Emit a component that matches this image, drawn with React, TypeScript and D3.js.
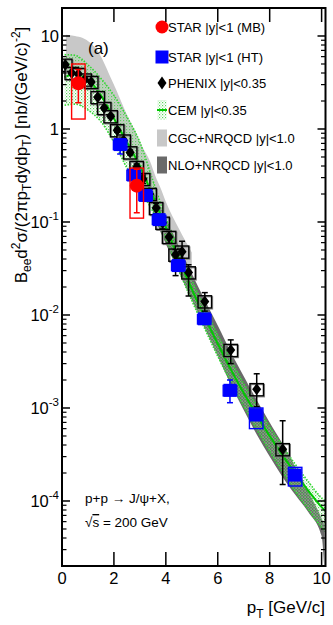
import React from "react";
import * as d3 from "d3";

// ---------- data ----------
const phenixPt = [0.125, 0.375, 0.625, 0.875, 1.125, 1.375, 1.625, 1.875, 2.125, 2.375, 2.625, 2.875, 3.125, 3.375, 3.625, 3.875, 4.125, 4.375, 4.625, 4.875, 5.5, 6.5, 7.5, 8.5];
const phenixVal = [4.9, 4.0, 3.9, 3.4, 3.2, 2.2, 1.68, 1.37, 0.97, 0.75, 0.56, 0.39, 0.29, 0.2, 0.141, 0.098, 0.069, 0.0445, 0.048, 0.0287, 0.014, 0.0042, 0.00159, 0.00036];
const phenixErrUp = [0.2, 0.15, 0.15, 0.13, 0.12, 0.09, 0.07, 0.06, 0.05, 0.04, 0.035, 0.03, 0.03, 0.025, 0.018, 0.014, 0.01, 0.006, 0.014, 0.006, 0.0034, 0.0012, 0.00074, 0.00037];
const phenixErrDn = [0.2, 0.15, 0.15, 0.13, 0.12, 0.09, 0.07, 0.06, 0.05, 0.04, 0.035, 0.03, 0.03, 0.025, 0.018, 0.014, 0.01, 0.018, 0.013, 0.0127, 0.003, 0.0012, 0.00056, 0.00021];
const phenixSysFrac = [0.15, 0.15, 0.15, 0.15, 0.15, 0.15, 0.15, 0.15, 0.15, 0.15, 0.15, 0.15, 0.15, 0.15, 0.15, 0.15, 0.15, 0.15, 0.15, 0.15, 0.15, 0.15, 0.15, 0.15];

const starHtPt = [2.24, 2.76, 3.22, 3.74, 4.48, 5.48, 6.47, 7.48, 8.98];
const starHtVal = [0.68, 0.32, 0.193, 0.106, 0.034, 0.0091, 0.00155, 0.00084, 0.00019];
const starHtErrUp = [0.05, 0.025, 0.012, 0.007, 0.003, 0.0008, 0.00045, 0.00008, 0.00002];
const starHtErrDn = [0.14, 0.025, 0.012, 0.007, 0.003, 0.0008, 0.00041, 0.00008, 0.00002];
const starHtSysLo = [0.6, 0.28, 0.17, 0.094, 0.03, 0.008, 0.00135, 0.0006, 0.000145];
const starHtSysHi = [0.76, 0.36, 0.215, 0.118, 0.038, 0.0101, 0.00175, 0.001, 0.00023];

const starMbPt = [0.63, 2.88];
const starMbVal = [3.1, 0.246];
const starMbErrUp = [1.25, 0.124];
const starMbErrDn = [1.18, 0.12];
const starMbSysLo = [1.28, 0.11];
const starMbSysHi = [5.0, 0.38];

const cemPt = [0.1, 0.5, 1.0, 1.5, 2.0, 2.5, 3.0, 3.5, 4.0, 4.5, 5.0, 5.5, 6.0, 6.5, 7.0, 7.5, 8.0, 8.5, 9.0, 9.5, 10.0, 10.15];
const cemCentral = [3.6, 3.9, 3.4, 2.3, 1.3, 0.72, 0.4, 0.19, 0.088, 0.04, 0.019, 0.0095, 0.0049, 0.0026, 0.00145, 0.00084, 0.0005, 0.00031, 0.000195, 0.000128, 0.000086, 0.000078];
const cemHigh = [6.3, 6.2, 4.9, 3.5, 2.3, 1.35, 0.72, 0.28, 0.11, 0.05, 0.0238, 0.0119, 0.0061, 0.0033, 0.00183, 0.00106, 0.00063, 0.00039, 0.000245, 0.00016, 0.000108, 0.0001];
const cemLow = [1.8, 1.85, 1.6, 1.2, 0.72, 0.38, 0.22, 0.13, 0.065, 0.03, 0.0143, 0.0071, 0.0036, 0.0019, 0.00104, 0.00059, 0.00034, 0.000205, 0.000125, 0.00008, 0.000052, 0.000047];

const cgcPt = [0.15, 0.5, 0.8, 1.1, 1.34, 1.6, 1.85, 2.1, 2.36, 2.6, 2.88, 3.1, 3.39, 3.6, 3.8, 4.0, 4.5, 5.0];
const cgcHigh = [10.3, 10.0, 9.5, 8.4, 7.1, 5.3, 3.7, 2.6, 1.75, 1.25, 0.88, 0.64, 0.45, 0.31, 0.23, 0.165, 0.085, 0.047];
const cgcLow = [4.0, 4.3, 4.0, 3.4, 2.8, 2.1, 1.55, 1.1, 0.75, 0.52, 0.34, 0.25, 0.165, 0.12, 0.09, 0.068, 0.036, 0.02];

const nloPt = [3.5, 4.0, 4.5, 5.0, 5.5, 6.0, 6.5, 7.0, 7.5, 8.0, 8.5, 9.0, 9.5, 10.0, 10.1];
const nloHigh = [0.22, 0.11, 0.055, 0.028, 0.0145, 0.0077, 0.004, 0.0022, 0.00122, 0.0007, 0.00041, 0.00023, 0.000125, 0.000065, 0.000056];
const nloLow = [0.12, 0.058, 0.029, 0.0145, 0.0072, 0.0036, 0.0018, 0.00095, 0.00052, 0.0003, 0.00018, 0.000115, 0.000075, 0.000042, 0.00002];

const xTicks = [0, 2, 4, 6, 8, 10];
const yDecades = [-4, -3, -2, -1, 0, 1];

const legendLabels = ["STAR |y|<1 (MB)", "STAR |y|<1 (HT)", "PHENIX |y|<0.35", "CEM |y|<0.35", "CGC+NRQCD |y|<1.0", "NLO+NRQCD |y|<1.0"];

// ---------- layout ----------
const W = 333;
const H = 625;
const L = 62;
const R = 325.5;
const T = 8;
const B = 566;
const FONT = "'Liberation Sans', Arial, Helvetica, sans-serif";

const x = d3.scaleLinear().domain([0, 10.15]).range([L, R]);
const y = d3.scaleLog().domain([2e-5, 20]).range([B, T]);

const RED = "#ff0000";
const BLUE = "#0000ff";
const GREEN = "#00c800";
const GREEN_DOT = "#33d633";

function band(pts: number[], lo: number[], hi: number[]) {
  const rows = pts.map((p, i) => ({ p, lo: lo[i], hi: hi[i] }));
  return d3
    .area<{ p: number; lo: number; hi: number }>()
    .x((d) => x(d.p))
    .y0((d) => y(d.lo))
    .y1((d) => y(d.hi))
    .curve(d3.curveMonotoneX)(rows) as string;
}

function line(pts: number[], vals: number[]) {
  const rows = pts.map((p, i) => ({ p, v: vals[i] }));
  return d3
    .line<{ p: number; v: number }>()
    .x((d) => x(d.p))
    .y((d) => y(d.v))
    .curve(d3.curveMonotoneX)(rows) as string;
}

function diamond(cx: number, cy: number, w: number, h: number) {
  return `M${cx},${cy - h}L${cx + w},${cy}L${cx},${cy + h}L${cx - w},${cy}Z`;
}

function ErrBar({ px, v, up, dn, color, cap }: { px: number; v: number; up: number; dn: number; color: string; cap: number }) {
  const X = x(px);
  const y1 = y(v + up);
  const y2 = y(Math.max(v - dn, 2.1e-5));
  return (
    <g stroke={color} strokeWidth={1.5}>
      <line x1={X} x2={X} y1={y1} y2={y2} />
      <line x1={X - cap} x2={X + cap} y1={y1} y2={y1} />
      <line x1={X - cap} x2={X + cap} y1={y2} y2={y2} />
    </g>
  );
}

export default function App() {
  const minorTicks: number[] = [];
  for (let d = -5; d <= 1; d++) {
    for (let m = 2; m <= 9; m++) {
      const v = m * Math.pow(10, d);
      if (v >= 2e-5 && v <= 20) minorTicks.push(v);
    }
  }

  const legendY = [27, 57, 83, 110, 138, 165];
  const legX = 162;

  return (
    <svg width={W} height={H} style={{ position: "absolute", left: 0, top: 0 }} fontFamily={FONT}>
      <defs>
        <clipPath id="plotClip">
          <rect x={L} y={T} width={R - L} height={B - T} />
        </clipPath>
        <pattern id="cemDots" width={3} height={3} patternUnits="userSpaceOnUse">
          <rect x={0} y={0} width={1.2} height={1.2} fill="#5cd65c" />
          <rect x={1.5} y={1.5} width={1.2} height={1.2} fill="#9be89b" />
        </pattern>
      </defs>
      <rect x={0} y={0} width={W} height={H} fill="#fff" />

      <g clipPath="url(#plotClip)">
        {/* CGC+NRQCD */}
        <path d={band(cgcPt, cgcLow, cgcHigh)} fill="#c8c8c8" />
        {/* NLO+NRQCD */}
        <path d={band(nloPt, nloLow, nloHigh)} fill="#6a6a6a" />
        {/* CEM */}
        <path d={band(cemPt, cemLow, cemHigh)} fill="url(#cemDots)" />
        <path d={line(cemPt, cemHigh)} fill="none" stroke={GREEN_DOT} strokeWidth={1.6} strokeDasharray="1.5,1.5" />
        <path d={line(cemPt, cemLow)} fill="none" stroke={GREEN_DOT} strokeWidth={1.6} strokeDasharray="1.5,1.5" />
        <path d={line(cemPt, cemCentral)} fill="none" stroke={GREEN} strokeWidth={2} />

        {/* PHENIX */}
        {phenixPt.map((p, i) => {
          const v = phenixVal[i];
          const f = phenixSysFrac[i];
          const x0 = x(p - 0.26);
          const x1 = x(p + 0.26);
          const yt = y(v * (1 + f));
          const yb = y(v * (1 - f));
          return (
            <g key={"pb" + i}>
              <rect x={x0 + 1} y={yt + 1} width={x1 - x0} height={yb - yt} fill="none" stroke="#888" strokeWidth={1.2} />
              <rect x={x0} y={yt} width={x1 - x0} height={yb - yt} fill="none" stroke="#000" strokeWidth={1.4} />
            </g>
          );
        })}
        {phenixPt.map((p, i) => (
          <ErrBar key={"pe" + i} px={p} v={phenixVal[i]} up={phenixErrUp[i]} dn={phenixErrDn[i]} color="#000" cap={3} />
        ))}
        {phenixPt.map((p, i) => (
          <path key={"pd" + i} d={diamond(x(p), y(phenixVal[i]), 4.5, 6)} fill="#000" />
        ))}

        {/* STAR HT */}
        {starHtPt.map((p, i) => {
          const x0 = x(p - 0.26);
          const x1 = x(p + 0.26);
          const yt = y(starHtSysHi[i]);
          const yb = y(starHtSysLo[i]);
          return <rect key={"hb" + i} x={x0} y={yt} width={x1 - x0} height={yb - yt} fill="none" stroke={BLUE} strokeWidth={1.4} />;
        })}
        {starHtPt.map((p, i) => (
          <ErrBar key={"he" + i} px={p} v={starHtVal[i]} up={starHtErrUp[i]} dn={starHtErrDn[i]} color={BLUE} cap={3} />
        ))}
        {starHtPt.map((p, i) => (
          <rect key={"hs" + i} x={x(p) - 6.5} y={y(starHtVal[i]) - 6.5} width={13} height={13} fill={BLUE} />
        ))}

        {/* STAR MB */}
        {starMbPt.map((p, i) => {
          const x0 = x(p - 0.26);
          const x1 = x(p + 0.26);
          const yt = y(starMbSysHi[i]);
          const yb = y(starMbSysLo[i]);
          return <rect key={"mb" + i} x={x0} y={yt} width={x1 - x0} height={yb - yt} fill="none" stroke={RED} strokeWidth={1.4} />;
        })}
        {starMbPt.map((p, i) => (
          <ErrBar key={"me" + i} px={p} v={starMbVal[i]} up={starMbErrUp[i]} dn={starMbErrDn[i]} color={RED} cap={3} />
        ))}
        {starMbPt.map((p, i) => (
          <circle key={"mc" + i} cx={x(p)} cy={y(starMbVal[i])} r={7} fill={RED} />
        ))}
      </g>

      {/* frame */}
      <rect x={L} y={T} width={R - L} height={B - T} fill="none" stroke="#000" strokeWidth={2} />

      {/* x ticks */}
      {xTicks.map((t) => (
        <g key={"xt" + t}>
          {t > 0 && <line x1={x(t)} x2={x(t)} y1={B} y2={B - 14} stroke="#000" strokeWidth={1.5} />}
          {t > 0 && <line x1={x(t)} x2={x(t)} y1={T} y2={T + 14} stroke="#000" strokeWidth={1.5} />}
          <text x={x(t)} y={584} fontSize={16.5} textAnchor="middle">
            {t}
          </text>
        </g>
      ))}

      {/* y ticks */}
      {yDecades.map((d) => {
        const Y = y(Math.pow(10, d));
        return (
          <g key={"yt" + d}>
            <line x1={L} x2={L + 8} y1={Y} y2={Y} stroke="#000" strokeWidth={1.5} />
            <line x1={R} x2={R - 8} y1={Y} y2={Y} stroke="#000" strokeWidth={1.5} />
            <text x={59} y={Y + 6} fontSize={16.5} textAnchor="end">
              {d === 0 ? "1" : d === 1 ? "10" : (
                <>
                  <tspan>10</tspan>
                  <tspan fontSize={11.5} dy={-8}>{String(d)}</tspan>
                </>
              )}
            </text>
          </g>
        );
      })}
      {minorTicks.map((v, i) => {
        const Y = y(v);
        return (
          <g key={"mt" + i}>
            <line x1={L} x2={L + 4.5} y1={Y} y2={Y} stroke="#000" strokeWidth={1.2} />
            <line x1={R} x2={R - 4.5} y1={Y} y2={Y} stroke="#000" strokeWidth={1.2} />
          </g>
        );
      })}

      {/* axis titles */}
      <text x={325} y={613} fontSize={17} textAnchor="end">
        <tspan>p</tspan>
        <tspan fontSize={12} dy={5}>T</tspan>
        <tspan dy={-5}> [GeV/c]</tspan>
      </text>
      <text transform="translate(27,155) rotate(-90)" fontSize={17} textAnchor="middle">
        <tspan>B</tspan>
        <tspan fontSize={12} dy={4}>ee</tspan>
        <tspan dy={-4}>d</tspan>
        <tspan fontSize={12} dy={-7}>2</tspan>
        <tspan dy={7}>σ/(2πp</tspan>
        <tspan fontSize={12} dy={4}>T</tspan>
        <tspan dy={-4}>dydp</tspan>
        <tspan fontSize={12} dy={4}>T</tspan>
        <tspan dy={-4}>) [nb/(GeV/c)</tspan>
        <tspan fontSize={12} dy={-7}>-2</tspan>
        <tspan dy={7}>]</tspan>
      </text>

      {/* panel label */}
      <text x={88} y={54} fontSize={17}>(a)</text>

      {/* reaction */}
      <text x={85} y={503} fontSize={13.5}>p+p → J/ψ+X,</text>
      <text x={85} y={527} fontSize={13.5}>
        <tspan>√</tspan>
        <tspan style={{ textDecoration: "overline" }}>s</tspan>
        <tspan> = 200 GeV</tspan>
      </text>

      {/* legend */}
      <g>
        <circle cx={legX} cy={legendY[0]} r={6.5} fill={RED} />
        <rect x={legX - 6.5} y={legendY[1] - 6.5} width={13} height={13} fill={BLUE} />
        <path d={diamond(legX, legendY[2], 4.5, 6.5)} fill="#000" />
        <rect x={legX - 4.5} y={legendY[3] - 10} width={9} height={20} fill="url(#cemDots)" />
        <line x1={legX - 5} x2={legX + 5} y1={legendY[3]} y2={legendY[3]} stroke={GREEN} strokeWidth={2} />
        <rect x={legX - 5} y={legendY[4] - 8.5} width={10} height={17} fill="#c8c8c8" />
        <rect x={legX - 5} y={legendY[5] - 8.5} width={10} height={17} fill="#6a6a6a" />
        {legendLabels.map((s, i) => (
          <text key={"lg" + i} x={168} y={legendY[i] + 5} fontSize={13}>
            {s}
          </text>
        ))}
      </g>
    </svg>
  );
}
